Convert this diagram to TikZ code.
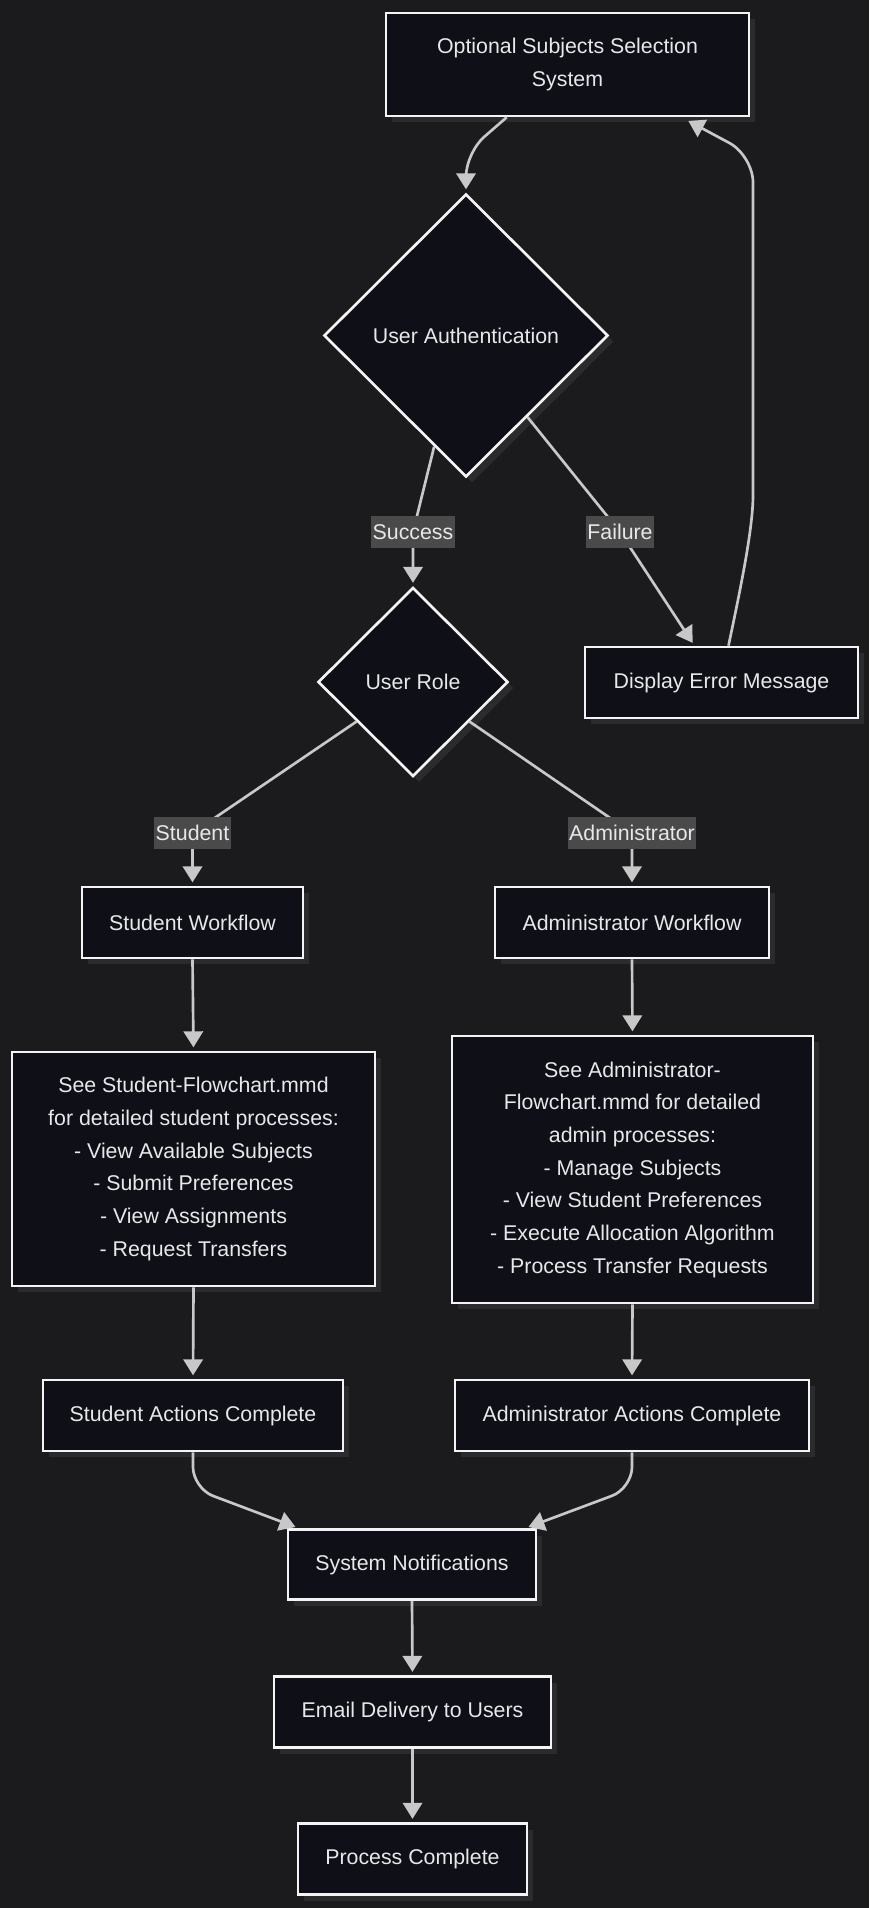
\documentclass[tikz,border=0pt]{standalone}
\usepackage{fontspec}
\setmainfont{Liberation Sans}
\usetikzlibrary{shapes.geometric,shadows,arrows.meta,calc}
\definecolor{bgc}{HTML}{1B1B1D}
\definecolor{nodefill}{HTML}{0E0F17}
\definecolor{nodedraw}{HTML}{F4F4F4}
\definecolor{txtc}{HTML}{E8E8E8}
\definecolor{edgec}{HTML}{C8C8C8}
\definecolor{lblfill}{HTML}{4A4A4A}
\definecolor{shadowc}{HTML}{2B2B2D}
\tikzset{
  base/.style={draw=nodedraw, line width=2pt, fill=nodefill, text=txtc,
    font=\fontsize{16pt}{24.5pt}\selectfont, align=center, inner sep=0pt,
    drop shadow={shadow xshift=4.5pt, shadow yshift=-4.5pt, fill=shadowc, opacity=1}},
  box/.style 2 args={base, rectangle, minimum width=#1*0.75pt, minimum height=#2*0.75pt},
  dia/.style 2 args={base, diamond, minimum width=#1*0.75pt, minimum height=#2*0.75pt},
  arr/.style={draw=edgec, line width=2pt, shorten >=2.5pt, -{Triangle[length=12pt,width=14.5pt]}},
  lbl/.style={fill=lblfill, text=txtc, font=\fontsize{16pt}{19pt}\selectfont,
    inner xsep=1pt, inner ysep=0pt, minimum height=24pt}
}
\begin{document}
\begin{tikzpicture}[x=0.75pt,y=-0.75pt]
\fill[bgc] (0,0) rectangle (869,1908);
\useasboundingbox (0,0) rectangle (869,1908);

% nodes
\node[box={363}{103}] (top) at (567.5,64.5) {Optional Subjects Selection\\System};
\node[dia={284}{283}] (ua) at (466,335.5) {User Authentication};
\node[dia={190}{189}] (role) at (413,682) {User Role};
\node[box={273}{71}] (err) at (721.5,682.5) {Display Error Message};
\node[box={221}{71}] (swf) at (192.5,922.5) {Student Workflow};
\node[box={274}{71}] (awf) at (632,922.5) {Administrator Workflow};
\node[box={363}{234}] (sdet) at (193.5,1169) {See Student-Flowchart.mmd\\for detailed student processes:\\- View Available Subjects\\- Submit Preferences\\- View Assignments\\- Request Transfers};
\node[box={361}{267}] (adet) at (632.5,1169.5) {See Administrator-\\Flowchart.mmd for detailed\\admin processes:\\- Manage Subjects\\- View Student Preferences\\- Execute Allocation Algorithm\\- Process Transfer Requests};
\node[box={300}{71}] (sac) at (193,1415.5) {Student Actions Complete};
\node[box={354}{71}] (aac) at (632,1415.5) {Administrator Actions Complete};
\node[box={248}{70}] (sn) at (412,1564.5) {System Notifications};
\node[box={277}{71}] (email) at (412.5,1712) {Email Delivery to Users};
\node[box={229}{71}] (pc) at (412.5,1859) {Process Complete};

% label positions
\coordinate (succ) at (413,532);
\coordinate (fail) at (620,532);
\coordinate (stl) at (192.5,833);
\coordinate (adl) at (632,833);

% connectors
\draw[arr, rounded corners=18pt] ($(top.south west)+(122,0)$) -- ($(ua.north)+(0,-40)$) -- (ua.north);
\draw[arr] (ua.254) -- (succ) -- (role.north);
\draw[arr] (ua.307) -- (fail) -- ($(err.north)+(-27,0)$);
\draw[arr, rounded corners=20pt] ($(err.north)+(7,0)$) .. controls ($(err.north)+(19,-57)$) and ($(err.north)+(31.5,-117)$) .. ($(err.north)+(31.5,-177)$) -- ($(err.north)+(31.5,-490)$) -- ($(top.south east)+(-65,2)$);
\draw[arr] (role.215) -- (stl) -- (swf.north);
\draw[arr] (role.325) -- (adl) -- (awf.north);
\draw[arr] (swf.south) -- (sdet.north);
\draw[arr] (awf.south) -- (adet.north);
\draw[arr] (sdet.south) -- (sac.north);
\draw[arr] (adet.south) -- (aac.north);
\draw[arr, rounded corners=16pt] (sac.south) -- ($(sac.south)+(0,36)$) -- ($(sn.north west)+(12,0)$);
\draw[arr, rounded corners=16pt] (aac.south) -- ($(aac.south)+(0,36)$) -- ($(sn.north east)+(-12,0)$);
\draw[arr] (sn.south) -- (email.north);
\draw[arr] (email.south) -- (pc.north);

% edge labels
\node[lbl] (succlbl) at (succ) {Success};
\node[lbl] (faillbl) at (fail) {Failure};
\node[lbl] (stlbl) at (stl) {Student};
\node[lbl] (adlbl) at (adl) {Administrator};
\end{tikzpicture}
\end{document}
